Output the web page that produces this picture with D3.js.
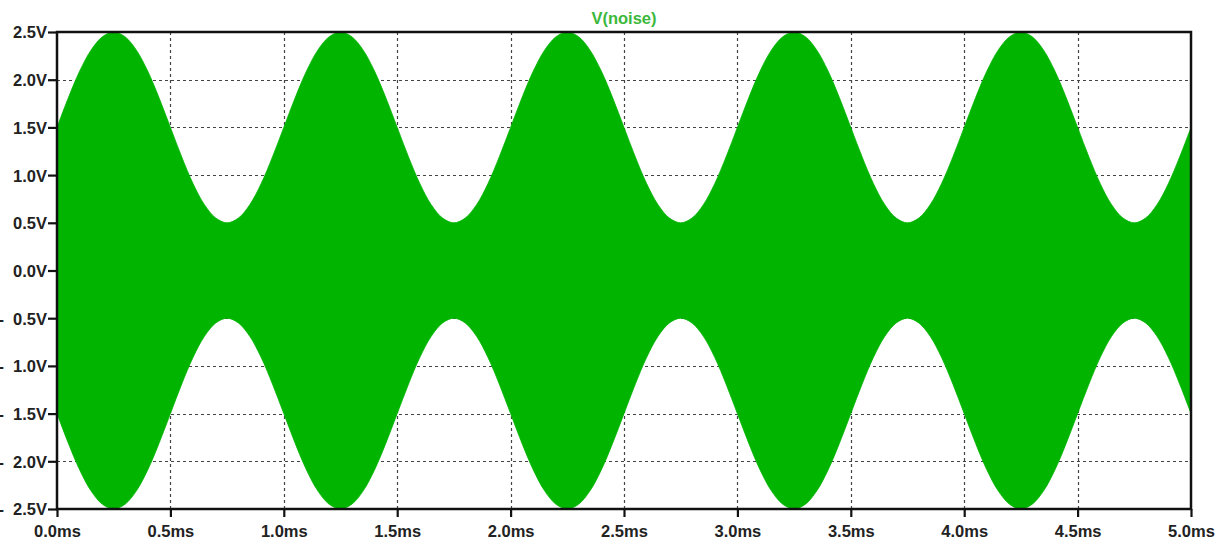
<!DOCTYPE html>
<html>
<head>
<meta charset="utf-8">
<script src="https://cdn.jsdelivr.net/npm/d3@7"></script>
<style>
  html, body { margin: 0; padding: 0; background: #ffffff; }
  svg { display: block; }
  text { font-family: "Liberation Sans", Arial, sans-serif; }
</style>
</head>
<body>
<script>
// Trace name and axis ticks
const traceName = "V(noise)";
const xTicksMs = [0.0, 0.5, 1.0, 1.5, 2.0, 2.5, 3.0, 3.5, 4.0, 4.5, 5.0];
const yTicksV = [2.5, 2.0, 1.5, 1.0, 0.5, 0.0, -0.5, -1.0, -1.5, -2.0, -2.5];

// Envelope of the modulated carrier: peak amplitude (V), sampled every 0.05 ms from 0 to 5 ms
const sampleStepMs = 0.05;
const envelopeV = [
  1.50, 1.81, 2.09, 2.31, 2.45, 2.50, 2.45, 2.31, 2.09, 1.81,
  1.50, 1.19, 0.91, 0.69, 0.55, 0.50, 0.55, 0.69, 0.91, 1.19,
  1.50, 1.81, 2.09, 2.31, 2.45, 2.50, 2.45, 2.31, 2.09, 1.81,
  1.50, 1.19, 0.91, 0.69, 0.55, 0.50, 0.55, 0.69, 0.91, 1.19,
  1.50, 1.81, 2.09, 2.31, 2.45, 2.50, 2.45, 2.31, 2.09, 1.81,
  1.50, 1.19, 0.91, 0.69, 0.55, 0.50, 0.55, 0.69, 0.91, 1.19,
  1.50, 1.81, 2.09, 2.31, 2.45, 2.50, 2.45, 2.31, 2.09, 1.81,
  1.50, 1.19, 0.91, 0.69, 0.55, 0.50, 0.55, 0.69, 0.91, 1.19,
  1.50, 1.81, 2.09, 2.31, 2.45, 2.50, 2.45, 2.31, 2.09, 1.81,
  1.50, 1.19, 0.91, 0.69, 0.55, 0.50, 0.55, 0.69, 0.91, 1.19,
  1.50
];

const W = 1226, H = 544;
const plot = { left: 57, right: 1191, top: 32, bottom: 509 };
const labelFont = "16.5px";

const svg = d3.select("body").append("svg")
  .attr("width", W).attr("height", H);

const x = d3.scaleLinear().domain([0, 5]).range([plot.left, plot.right]);
const y = d3.scaleLinear().domain([-2.5, 2.5]).range([plot.bottom, plot.top]);

// Dashed grid
const grid = svg.append("g")
  .attr("stroke", "#444")
  .attr("stroke-width", 1.2)
  .attr("stroke-dasharray", "3,3");
grid.selectAll("line.v")
  .data(xTicksMs.slice(1, -1))
  .join("line")
  .attr("class", "v")
  .attr("x1", d => Math.round(x(d)) + 0.5).attr("x2", d => Math.round(x(d)) + 0.5)
  .attr("y1", plot.top).attr("y2", plot.bottom);
grid.selectAll("line.h")
  .data(yTicksV.slice(1, -1))
  .join("line")
  .attr("class", "h")
  .attr("y1", d => Math.round(y(d)) + 0.5).attr("y2", d => Math.round(y(d)) + 0.5)
  .attr("x1", plot.left).attr("x2", plot.right);

// Filled waveform between the upper and lower envelope
const samples = envelopeV.map((v, i) => ({ t: i * sampleStepMs, v }));
const band = d3.area()
  .x(d => x(d.t))
  .y0(d => y(-d.v))
  .y1(d => y(d.v))
  .curve(d3.curveCatmullRom);
svg.append("path")
  .datum(samples)
  .attr("d", band)
  .attr("fill", "#00b400")
  .attr("stroke", "#00b400")
  .attr("stroke-width", 0.8);

// Axes
const xAxis = d3.axisBottom(x)
  .tickValues(xTicksMs)
  .tickSize(8)
  .tickPadding(8)
  .tickFormat(d => d.toFixed(1) + "ms");
const yAxis = d3.axisLeft(y)
  .tickValues(yTicksV)
  .tickSize(9)
  .tickPadding(1)
  .tickFormat(d => Math.abs(d).toFixed(1) + "V");

const gx = svg.append("g")
  .attr("transform", `translate(0,${plot.bottom})`)
  .call(xAxis);
const gy = svg.append("g")
  .attr("transform", `translate(${plot.left},0)`)
  .call(yAxis);

[gx, gy].forEach(g => {
  g.select(".domain").remove();
  g.selectAll(".tick line").attr("stroke", "#111").attr("stroke-width", 2.2);
  g.selectAll(".tick text")
    .attr("fill", "#222")
    .style("font-size", labelFont)
    .style("font-weight", "bold")
    .style("font-family", "'Liberation Sans', Arial, sans-serif");
});
gy.selectAll(".tick text").attr("dy", "0.36em");

// Negative values: a hyphen pushed out to the left edge of the magnitude
gy.selectAll(".tick text")
  .filter(d => d < 0)
  .each(function (d) {
    const t = d3.select(this);
    const mag = t.text();
    t.text(null);
    t.append("tspan").text("-");
    t.append("tspan").attr("dx", 9).text(mag);
  });

// Plot frame
svg.append("rect")
  .attr("x", plot.left).attr("y", plot.top)
  .attr("width", plot.right - plot.left)
  .attr("height", plot.bottom - plot.top)
  .attr("fill", "none")
  .attr("stroke", "#111")
  .attr("stroke-width", 2.5);

// Trace label
svg.append("text")
  .attr("x", 624)
  .attr("y", 24)
  .attr("text-anchor", "middle")
  .attr("fill", "#3cb83c")
  .style("font-size", "16.5px")
  .style("font-weight", "bold")
  .text(traceName);
</script>
</body>
</html>
